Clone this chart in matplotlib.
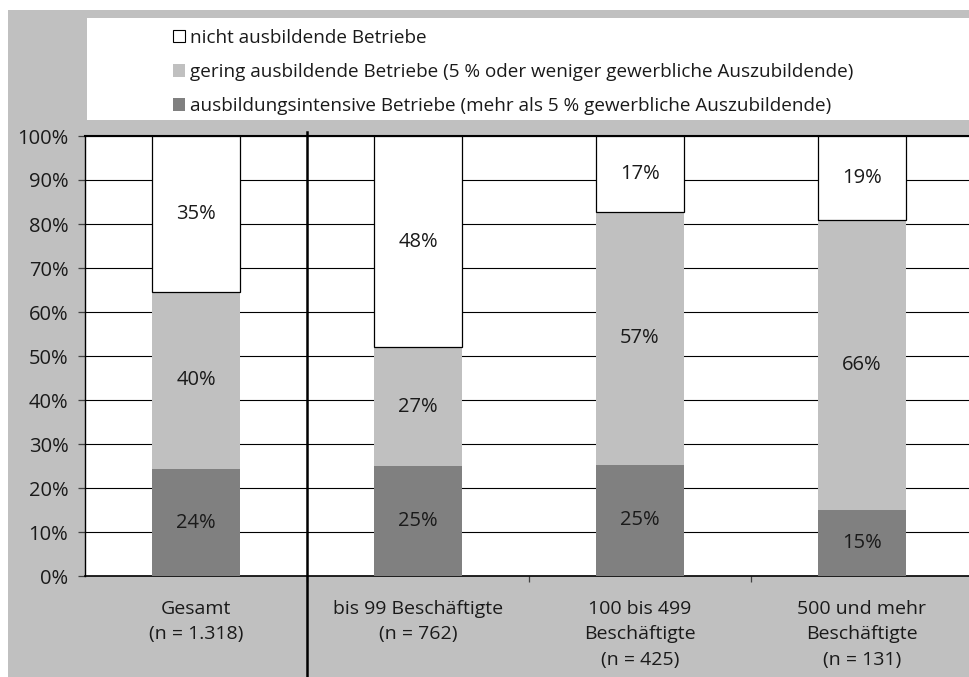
import numpy as np
import matplotlib.pyplot as plt
from matplotlib.patches import Rectangle, Patch
from matplotlib.transforms import blended_transform_factory

plt.rcParams['font.family'] = ['Open Sans', 'DejaVu Sans']

categories = ["Gesamt\n(n = 1.318)", "bis 99 Beschäftigte\n(n = 762)",
              "100 bis 499\nBeschäftigte\n(n = 425)", "500 und mehr\nBeschäftigte\n(n = 131)"]
intensiv = [24, 25, 25, 15]
gering = [40, 27, 57, 66]
nicht = [35, 48, 17, 19]
series_names = ["nicht ausbildende Betriebe",
                "gering ausbildende Betriebe (5 % oder weniger gewerbliche Auszubildende)",
                "ausbildungsintensive Betriebe (mehr als 5 % gewerbliche Auszubildende)"]

W, H = 970, 677
TXT = '#1a1a1a'
fig = plt.figure(figsize=(W / 100, H / 100), dpi=100, facecolor='white')

# grauer Hintergrund + weisses Legendenfeld
fig.patches.append(Rectangle((8 / W, 0), 1, (H - 10) / H, transform=fig.transFigure,
                             facecolor='#c0c0c0', edgecolor='none', zorder=-2))
fig.patches.append(Rectangle((87 / W, 1 - 120 / H), 1, 102 / H, transform=fig.transFigure,
                             facecolor='white', edgecolor='none', zorder=-1))

ax = fig.add_axes([85 / W, 101 / H, 888 / W, 440 / H])
ax.set_facecolor('white')

raw = np.array([intensiv, gering, nicht], dtype=float)
shares = raw / raw.sum(axis=0) * 100
x = np.arange(len(categories))
colors = ['#808080', '#c0c0c0', 'white']
edges = ['none', 'none', 'black']
bottom = np.zeros(len(categories))
for i in range(3):
    ax.bar(x, shares[i], 0.4, bottom=bottom, color=colors[i], edgecolor=edges[i],
           linewidth=0.9, zorder=3)
    for xi, b, h, v in zip(x, bottom, shares[i], raw[i]):
        ax.text(xi, b + h / 2, f"{v:.0f}%", ha='center', va='center', fontsize=14.5,
                color=TXT, zorder=4)
    bottom += shares[i]

ax.set_ylim(0, 100)
ax.set_xlim(-0.5, 3.5)
ax.set_yticks(np.arange(0, 101, 10))
ax.set_yticklabels([f"{v}%" for v in range(0, 101, 10)], fontsize=14.5, color=TXT)
ax.yaxis.grid(True, color='black', linewidth=0.8, zorder=0)
ax.tick_params(axis='y', length=5, width=0.9, pad=7, color='#404040')

ax.set_xticks([0.5, 1.5, 2.5])
ax.set_xticklabels([])
ax.tick_params(axis='x', which='major', length=4, width=0.9, color='#404040')
ax.set_xticks(x, categories, minor=True)
ax.tick_params(axis='x', which='minor', length=0, pad=17, labelsize=14, labelcolor=TXT)
for lab in ax.get_xticklabels(minor=True):
    lab.set_linespacing(1.56)

ax.spines['right'].set_visible(False)
ax.spines['top'].set_linewidth(1.5)
ax.spines['left'].set_linewidth(1)
ax.spines['bottom'].set_linewidth(1.2)

# Trennlinie zwischen Gesamt und Groessenklassen
tr = blended_transform_factory(ax.transData, ax.transAxes)
ax.plot([0.5, 0.5], [1.01, -0.24], transform=tr, color='black', linewidth=1.8, clip_on=False, zorder=5)

handles = [Patch(facecolor=c, edgecolor=e, linewidth=0.8)
           for c, e in zip(['white', '#c0c0c0', '#808080'], ['black', 'none', 'none'])]
fig.legend(handles, series_names, loc='upper left', bbox_to_anchor=(165 / W, 1 - 21 / H),
           frameon=False, fontsize=13.6, handlelength=0.66, handleheight=0.66,
           handletextpad=0.25, labelspacing=0.86, borderaxespad=0, labelcolor=TXT)

fig.savefig('out.png', dpi=100, facecolor='white')
